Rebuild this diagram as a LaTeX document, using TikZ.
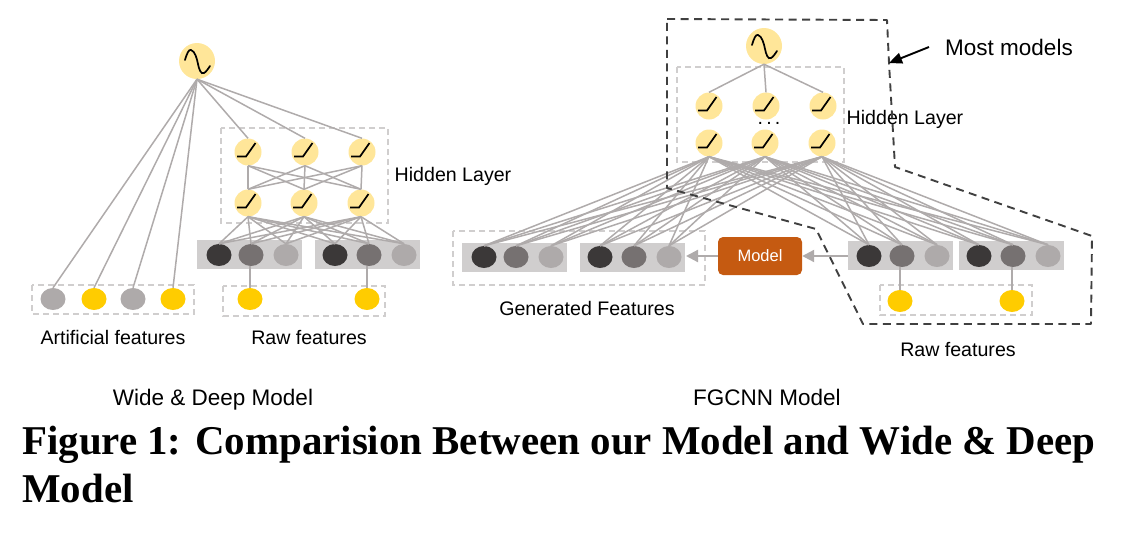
\documentclass[tikz,border=0pt]{standalone}
\usepackage{fontspec}
\setmainfont{Liberation Sans}
\newfontfamily\capfont{Liberation Serif}
\usetikzlibrary{shapes.geometric,arrows.meta}
\definecolor{lnk}{HTML}{AFABAB}
\definecolor{pale}{HTML}{FFE699}
\definecolor{gold}{HTML}{FFCC00}
\definecolor{barc}{HTML}{D0CECE}
\definecolor{dk}{HTML}{3B3838}
\definecolor{md}{HTML}{767171}
\definecolor{lt}{HTML}{AEAAAA}
\definecolor{dsh}{HTML}{D0CECE}
\definecolor{hull}{HTML}{404040}
\definecolor{orng}{HTML}{C55A11}
\tikzset{
 x=1pt,y=-1pt,
 lnkline/.style={draw=lnk,line width=1.5pt},
 bigc/.style={circle,fill=pale,minimum size=36pt,inner sep=0pt},
 hid/.style={circle,fill=pale,minimum size=27pt,inner sep=0pt},
 feat/.style={ellipse,minimum width=25pt,minimum height=22pt,inner sep=0pt},
 fdk/.style={feat,fill=dk},
 fmd/.style={feat,fill=md},
 flt/.style={feat,fill=lt},
 fgd/.style={feat,fill=gold},
 barbox/.style={fill=barc},
 lightdash/.style={draw=dsh,line width=1.8pt,dash pattern=on 6pt off 4pt},
 hulldash/.style={draw=hull,line width=1.9pt,dash pattern=on 8pt off 5.5pt,line join=round},
 glyph/.style={draw=black,line width=1.7pt},
 lab/.style={inner sep=0pt,font=\fontsize{19.6}{22}\selectfont},
 labb/.style={inner sep=0pt,anchor=base,font=\fontsize{22.5}{26}\selectfont},
 capt/.style={inner sep=0pt,anchor=west,font=\capfont\bfseries\fontsize{40.9}{46}\selectfont},
 ramp/.pic={\draw[glyph] (-11,4.5) -- (-2,4.5) -- (7.5,-9);},
 wave/.pic={\draw[glyph,line cap=round] (-12,-1) .. controls (-10,-8) and (-8,-12) .. (-6,-11) .. controls (-2,-10) and (0,-2) .. (1,3) .. controls (2,8) and (4,14) .. (7,12) .. controls (9,11) and (11,8) .. (13,5);},
}
\begin{document}
\begin{tikzpicture}
\useasboundingbox (0,0) rectangle (1132,536);
% --- Wide & Deep
\fill[barbox] (197,240) rectangle (302,269);
\fill[barbox] (315,240) rectangle (420,269);
\draw[lightdash] (221,128) rectangle (388,223);
\draw[lightdash] (32,285) rectangle (194,314);
\draw[lightdash] (223,286) rectangle (385,316);
\node[bigc] (Lo) at (197,61) {};
\foreach \n/\x in {a/248,b/305,c/362}{\node[hid] (Lu\n) at (\x,152) {}; \pic at (\x,152) {ramp};}
\foreach \n/\x in {a/248,b/304,c/361}{\node[hid] (Ll\n) at (\x,203) {}; \pic at (\x,203) {ramp};}
\pic at (197,61) {wave};
\node[fdk] (Lf1) at (219,255) {};
\node[fmd] (Lf2) at (251,255) {};
\node[flt] (Lf3) at (286,255) {};
\node[fdk] (Lf4) at (335,255) {};
\node[fmd] (Lf5) at (369,255) {};
\node[flt] (Lf6) at (404,255) {};
\node[flt] (La1) at (53,299) {};
\node[fgd] (La2) at (94,299) {};
\node[flt] (La3) at (133,299) {};
\node[fgd] (La4) at (173,299) {};
\node[fgd] (Lr1) at (250,299) {};
\node[fgd] (Lr2) at (367,299) {};
\foreach \t in {La1,La2,La3,La4,Lua,Lub,Luc}{\draw[lnkline] (Lo.south) -- (\t.north);}
\foreach \s in {Lua,Lub,Luc}{\foreach \t in {Lla,Llb,Llc}{\draw[lnkline] (\s.south) -- (\t.north);}}
\foreach \s in {Lla,Llb,Llc}{\foreach \t in {Lf1,Lf2,Lf3,Lf4,Lf5,Lf6}{\draw[lnkline] (\s.south) -- (\t.north);}}
\draw[lnkline] (Lr1.north) -- (Lr1.north |- Lf2.south);
\draw[lnkline] (Lr2.north) -- (Lr2.north |- Lf5.south);
\node[lab] (t1) at (453,176) {Hidden Layer};
\node[lab] (t2) at (113,337) {Artificial features};
\node[lab] (t3) at (309,337) {Raw features};
\node[labb] (t4) at (213,405) {Wide \& Deep Model};
% --- FGCNN
\fill[barbox] (462,243) rectangle (567,272);
\fill[barbox] (580,243) rectangle (685,272);
\fill[barbox] (848,241) rectangle (953,270);
\fill[barbox] (959,241) rectangle (1064,270);
\draw[lightdash] (677,67) rectangle (844,162);
\draw[lightdash] (453,231) rectangle (705,285);
\draw[lightdash] (880,285) rectangle (1032,315);
\node[bigc] (Ro) at (764,46) {};
\pic at (764,46) {wave};
\foreach \n/\x in {a/709,b/766,c/823}{\node[hid] (Ru\n) at (\x,106) {}; \pic at (\x,106) {ramp};}
\foreach \n/\x in {a/709,b/765,c/822}{\node[hid] (Rl\n) at (\x,143) {}; \pic at (\x,143) {ramp};}
\node[fdk] (Rg1) at (484,257) {};
\node[fmd] (Rg2) at (516,257) {};
\node[flt] (Rg3) at (551,257) {};
\node[fdk] (Rg4) at (600,257) {};
\node[fmd] (Rg5) at (634,257) {};
\node[flt] (Rg6) at (669,257) {};
\node[fdk] (Rf1) at (869,256) {};
\node[fmd] (Rf2) at (902,256) {};
\node[flt] (Rf3) at (937,256) {};
\node[fdk] (Rf4) at (979,256) {};
\node[fmd] (Rf5) at (1013,256) {};
\node[flt] (Rf6) at (1048,256) {};
\node[fgd] (Rr1) at (900,301) {};
\node[fgd] (Rr2) at (1012,301) {};
\foreach \t in {Rua,Rub,Ruc}{\draw[lnkline] (Ro.south) -- (\t.north);}
\foreach \s in {Rla,Rlb,Rlc}{\foreach \t in {Rg1,Rg2,Rg3,Rg4,Rg5,Rg6,Rf1,Rf2,Rf3,Rf4,Rf5,Rf6}{\draw[lnkline] (\s.south) -- (\t.north);}}
\draw[lnkline] (Rr1.north) -- (Rr1.north |- Rf2.south);
\draw[lnkline] (Rr2.north) -- (Rr2.north |- Rf5.south);
\node[rounded corners=5pt,fill=orng,text=white,minimum width=84pt,minimum height=38pt,inner sep=0pt,font=\fontsize{16.5}{20}\selectfont] (Mo) at (760,256) {Model};
\coordinate (BarR) at (848,256);
\coordinate (BarG) at (686,256);
\draw[lnkline,line width=2.2pt,-{Triangle[length=12pt,width=12pt]}] (BarR) -- (Mo.east);
\draw[lnkline,line width=2.2pt,-{Triangle[length=12pt,width=12pt]}] (Mo.west) -- (BarG);
\node[inner sep=0pt,anchor=base,font=\fontsize{19.6}{22}\selectfont] (t5) at (769,124) {.\,.\,.};
\node[lab] (t6) at (905,119) {Hidden Layer};
\node[labb] (t7) at (1009,55) {Most models};
\node[lab] (t8) at (587,308) {Generated Features};
\node[lab] (t9) at (958,349) {Raw features};
\node[labb] (t10) at (767,405) {FGCNN Model};
\draw[hulldash] (667,19) -- (887,20) -- (889,63) -- (895,167) -- (1092,236) -- (1091,324) -- (863,324) -- (816,229) -- (667,188) -- cycle;
\coordinate (Hp) at (889,63);
\coordinate (As) at (929,47);
\draw[black,line width=1.9pt,-{Triangle[length=13pt,width=11pt]}] (As) -- (Hp);
% --- caption
\node[capt] (c1) at (22,445) {Figure 1: Comparision Between our Model and Wide \& Deep};
\node[capt] (c2) at (22,489) {Model};
\end{tikzpicture}
\end{document}
